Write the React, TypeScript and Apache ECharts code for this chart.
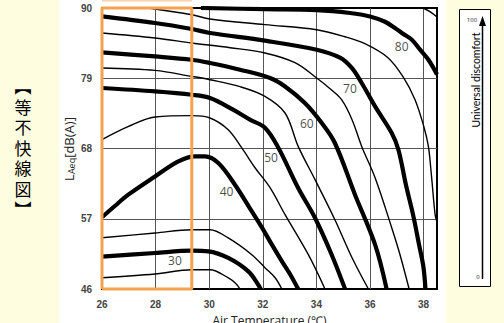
import React, { useEffect, useRef } from "react";
import * as echarts from "echarts";

// Axis ticks
const xTicks = [26, 28, 30, 32, 34, 36, 38];
const yTicks = [46, 57, 68, 79, 90];
const Y_BASE = 46;

// Contour lines: [air temperature (°C), LAeq dB(A)]
const c25 = [[26, 47.77], [27.98, 48.35], [29.35, 49.02], [30.03, 49.02], [30.7, 47.77], [31.0, 46.83], [31.15, 46]];
const c30 = [[26, 51.06], [27.98, 51.64], [29.35, 52.0], [29.97, 51.89], [30.71, 50.86], [31.46, 48.76], [31.83, 46.67], [31.92, 46]];
const c35 = [[26, 54.03], [27.98, 54.77], [29.35, 55.28], [30.03, 55.28], [30.71, 53.99], [31.59, 51.37], [32.08, 49.34], [32.46, 47.77], [32.71, 46]];
const c40 = [[26, 57.24], [26.49, 59.04], [26.98, 60.77], [27.98, 63.63], [28.85, 65.98], [29.47, 66.76], [29.84, 66.76], [30.34, 65.73], [30.96, 62.33], [31.59, 58.15], [31.97, 55.6], [32.34, 52.94], [32.72, 50.28], [33.05, 48.08], [33.32, 46]];
const c45 = [[26, 69.38], [26.97, 71.41], [27.98, 72.93], [29.35, 73.14], [30.03, 72.78], [30.71, 70.94], [31.21, 68.13], [31.71, 64.99], [32.27, 61.86], [32.83, 57.64], [33.7, 51.37], [34.32, 46]];
const c50 = [[26, 77.47], [27.98, 76.94], [29.35, 76.42], [30.03, 75.91], [30.89, 74.08], [31.52, 72.51], [32.08, 71.26], [32.58, 68.13], [33.32, 61.82], [33.95, 57.12], [34.57, 51.37], [35.07, 46]];
const c55 = [[26, 80.61], [27.98, 80.23], [29.35, 79.29], [30.03, 78.77], [31.15, 77.68], [32.08, 76.16], [32.83, 73.56], [33.32, 68.33], [33.95, 63.12], [34.69, 56.85], [35.33, 50.9], [35.94, 46]];
const c60 = [[26, 83.05], [27.98, 82.42], [29.35, 81.9], [30.03, 81.39], [31.15, 80.34], [32.27, 79.04], [32.83, 77.72], [33.57, 75.13], [34.2, 71.99], [34.69, 68.86], [35.44, 60.77], [36.19, 52.94], [36.62, 46]];
const c65 = [[26, 86.09], [27.98, 85.3], [29.35, 84.52], [30.78, 83.78], [32.08, 82.95], [33.2, 81.43], [34.01, 79.04], [34.51, 77.36], [34.94, 75.64], [35.33, 72.51], [35.69, 68.33], [36.19, 63.43], [36.81, 55.6], [37.12, 51.37], [37.46, 46]];
const c70 = [[26, 88.68], [27.98, 87.65], [29.35, 86.71], [30.03, 86.09], [32.08, 84.88], [34.01, 83.47], [34.88, 82.22], [35.32, 80.61], [35.69, 78.26], [36.19, 74.59], [36.81, 70.43], [37.06, 67.81], [37.34, 62.33], [37.62, 57.37], [37.83, 52.94], [37.99, 49.54], [38.07, 46]];
const c75 = [[27.72, 90], [29.35, 88.95], [30.03, 88.28], [32.08, 87.39], [34.01, 86.6], [35.07, 85.5], [35.81, 84.41], [36.67, 82.22], [37.23, 79.24], [37.68, 75.64], [38.01, 71.41], [38.18, 68.28], [38.3, 63.43], [38.43, 57.64], [38.5, 56.5]];
const c80 = [[29.69, 90], [32.08, 89.81], [34.01, 89.66], [35.25, 89.22], [36.0, 88.68], [36.56, 87.85], [36.93, 86.87], [37.23, 85.98], [37.56, 85.04], [37.87, 83.47], [38.18, 81.9], [38.5, 79.6]];
const c85 = [[37.98, 90], [38.25, 89.4], [38.5, 88.6]];

const contours = [
  { level: 25, thick: false, pts: c25 },
  { level: 30, thick: true, pts: c30 },
  { level: 35, thick: false, pts: c35 },
  { level: 40, thick: true, pts: c40 },
  { level: 45, thick: false, pts: c45 },
  { level: 50, thick: true, pts: c50 },
  { level: 55, thick: false, pts: c55 },
  { level: 60, thick: true, pts: c60 },
  { level: 65, thick: false, pts: c65 },
  { level: 70, thick: true, pts: c70 },
  { level: 75, thick: false, pts: c75 },
  { level: 80, thick: true, pts: c80 },
  { level: 85, thick: false, pts: c85 },
];

// Contour labels: [temp, LAeq, text]
const labelTemps = [28.72, 30.65, 32.31, 33.64, 35.25, 37.18];
const labelLevels = [50.47, 61.28, 66.56, 71.99, 77.47, 83.99];
const labelTexts = ["30", "40", "50", "60", "70", "80"];

// Highlighted range (orange box)
const boxTemps = [26, 29.35];
const boxLevels = [46, 90];

const YELLOW = "#FFFDE0";
const ORANGE = "#F5A24F";

const centered = { align: "center", verticalAlign: "middle", textAlign: "center", textVerticalAlign: "middle" };

export default function App() {
  const ref = useRef<HTMLDivElement>(null);
  useEffect(() => {
    if (!ref.current) return;
    const chart = echarts.init(ref.current, null, { renderer: "svg" });
    const toY = (v: number) => v - Y_BASE;

    const contourSeries = contours.map((c) => ({
      type: "line",
      name: "L" + c.level,
      data: c.pts.map((p) => [p[0], toY(p[1])]),
      smooth: 0.35,
      symbol: "none",
      silent: true,
      lineStyle: { color: "#000", width: c.thick ? 4.2 : 1.4 },
      z: 3,
    }));

    const labelSeries = {
      type: "scatter",
      data: labelTexts.map((t, i) => [labelTemps[i], toY(labelLevels[i]), t]),
      symbolSize: 1,
      itemStyle: { color: "transparent" },
      silent: true,
      label: {
        show: true,
        position: "inside",
        formatter: (p: any) => p.data[2],
        fontFamily: "Open Sans",
        fontSize: 12,
        color: "#1a1a1a",
      },
      z: 5,
    };

    const boxSeries = {
      type: "line",
      data: [
        [boxTemps[0], toY(boxLevels[0])],
        [boxTemps[0], toY(boxLevels[1])],
        [boxTemps[1], toY(boxLevels[1])],
        [boxTemps[1], toY(boxLevels[0])],
        [boxTemps[0], toY(boxLevels[0])],
      ],
      symbol: "none",
      silent: true,
      clip: false,
      lineStyle: { color: ORANGE, width: 3 },
      z: 10,
    };

    chart.setOption({
      animation: false,
      backgroundColor: "transparent",
      grid: {
        left: 102,
        right: 67,
        top: 8,
        bottom: 34,
        outerBoundsMode: "none",
        containLabel: false,
        show: true,
        borderColor: "#000",
        borderWidth: 2,
        backgroundColor: "#fff",
      },
      xAxis: {
        type: "value",
        min: xTicks[0],
        max: 38.5,
        interval: 2,
        axisLine: { show: false },
        axisTick: { show: false },
        axisLabel: {
          margin: 10,
          fontFamily: "Liberation Sans",
          fontSize: 10,
          fontWeight: "bold",
          color: "#444",
          formatter: (v: number) => (xTicks.includes(v) ? String(v) : ""),
        },
        splitLine: { show: true, showMinLine: false, showMaxLine: false, lineStyle: { color: "#555", width: 1 } },
        name: "Air Temperature (℃)",
        nameLocation: "middle",
        nameGap: 25,
        nameTextStyle: { fontFamily: "Open Sans", fontSize: 12, color: "#222" },
      },
      yAxis: {
        type: "value",
        min: 0,
        max: yTicks[yTicks.length - 1] - Y_BASE,
        interval: 11,
        axisLine: { show: false },
        axisTick: { show: false },
        axisLabel: {
          margin: 10,
          fontFamily: "Liberation Sans",
          fontSize: 10,
          fontWeight: "bold",
          color: "#444",
          formatter: (v: number) => String(v + Y_BASE),
        },
        splitLine: { show: true, showMinLine: false, showMaxLine: false, lineStyle: { color: "#555", width: 1 } },
      },
      graphic: [
        { type: "rect", z: -100, shape: { x: 59, y: 0, width: 387, height: 323 }, style: { fill: "#fff" } },
        { type: "rect", z: 20, shape: { x: 102, y: 0, width: 90, height: 1.5 }, style: { fill: "#FAD3A8" } },
        {
          type: "text",
          x: 69,
          y: 149,
          rotation: Math.PI / 2,
          style: {
            text: "{a|L}{b|Aeq}{a|[dB(A)]}",
            ...centered,
            rich: {
              a: { fontFamily: "Open Sans", fontSize: 13, fill: "#222", verticalAlign: "bottom" },
              b: { fontFamily: "Open Sans", fontSize: 9, fill: "#222", verticalAlign: "bottom", padding: [4, 0, 0, 0] },
            },
          },
        },
        {
          type: "text",
          x: 23,
          y: 147,
          style: {
            text: "︻\n等\n不\n快\n線\n図\n︼",
            fontFamily: "Noto Sans CJK JP",
            fontSize: 17,
            lineHeight: 20.5,
            fill: "#000",
            ...centered,
          },
        },
        { type: "rect", shape: { x: 459.5, y: 9.5, width: 31, height: 277 }, style: { fill: "#fff", stroke: "#000", lineWidth: 1 } },
        { type: "line", shape: { x1: 482.5, y1: 279, x2: 482.5, y2: 24 }, style: { stroke: "#000", lineWidth: 1.5 } },
        { type: "polygon", shape: { points: [[482.5, 16], [479, 26], [486, 26]] }, style: { fill: "#000" } },
        { type: "text", x: 472, y: 20, style: { text: "100", fontFamily: "Open Sans", fontSize: 6, fill: "#222", ...centered } },
        { type: "text", x: 478, y: 277, style: { text: "0", fontFamily: "Open Sans", fontSize: 6, fill: "#222", ...centered } },
        {
          type: "text",
          x: 476,
          y: 80,
          rotation: Math.PI / 2,
          style: { text: "Universal discomfort", fontFamily: "Lato", fontSize: 10.5, fill: "#000", ...centered },
        },
      ],
      series: [...contourSeries, labelSeries, boxSeries],
    });
    return () => chart.dispose();
  }, []);
  return (
    <div
      ref={ref}
      style={{ position: "fixed", left: 0, top: 0, width: 504, height: 323, background: YELLOW }}
    />
  );
}
